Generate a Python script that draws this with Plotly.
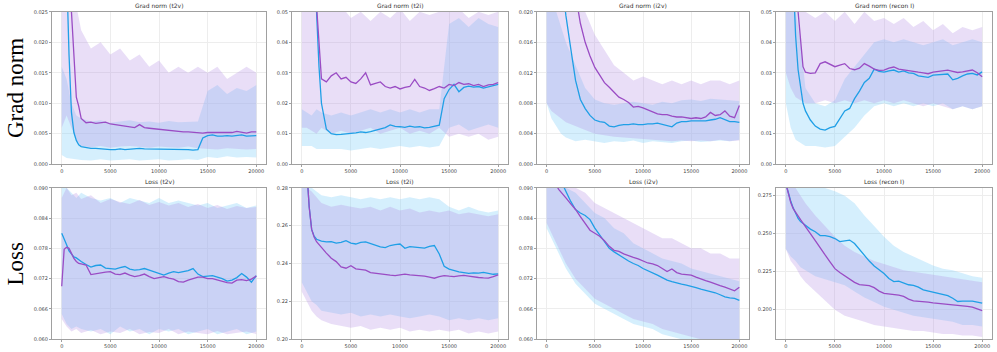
import plotly.graph_objects as go

# x positions (training steps) of the smoothed curves and of the noise envelopes
STEPS = [0, 250, 500, 750, 1000, 1250, 1500, 1750, 2000] + list(range(2500, 20001, 500))
BAND_STEPS = [0, 500, 1000, 1500, 2000] + list(range(3000, 20001, 1000))
X_TICKS = [0, 5000, 10000, 15000, 20000]

# ---- Grad norm (t2v)
gn_t2v_blue = [0.060, 0.045, 0.032, 0.018, 0.0085, 0.0052, 0.0039, 0.0032, 0.0029,
               0.0027, 0.0026, 0.0026, 0.0025, 0.0025, 0.0024, 0.0024, 0.0025, 0.0024,
               0.0025, 0.0025, 0.0026, 0.0025, 0.0025, 0.0024, 0.0025, 0.0024, 0.0025,
               0.0025, 0.0024, 0.0025, 0.0024, 0.0023, 0.0024, 0.0043, 0.0047, 0.0048,
               0.0046, 0.0046, 0.0047, 0.0046, 0.0047, 0.0048, 0.0046, 0.0047, 0.0047]
gn_t2v_purple = [0.080, 0.065, 0.050, 0.035, 0.025, 0.017, 0.011, 0.0095, 0.0075,
                 0.0068, 0.0069, 0.0067, 0.0068, 0.0069, 0.0066, 0.0065, 0.0064, 0.0063,
                 0.0061, 0.0060, 0.0065, 0.0060, 0.0059, 0.0058, 0.0058, 0.0057, 0.0056,
                 0.0055, 0.0054, 0.0053, 0.0053, 0.0052, 0.0051, 0.0051, 0.0052, 0.0052,
                 0.0052, 0.0051, 0.0051, 0.0052, 0.0054, 0.0052, 0.0051, 0.0053, 0.0053]
gn_t2v_blue_lo = [0.0015, 0.0010, 0.0008, 0.0008, 0.0007, 0.0006, 0.0008, 0.0006, 0.0007, 0.0008, 0.0006, 0.0007,
                  0.0008, 0.0006, 0.0007, 0.0008, 0.0007, 0.0012, 0.0010, 0.0013, 0.0011, 0.0012, 0.0011]
gn_t2v_blue_hi = [0.016, 0.014, 0.010, 0.0080, 0.0075, 0.0070, 0.0072, 0.0068, 0.0070, 0.0072, 0.0069, 0.0070,
                  0.0068, 0.0071, 0.0069, 0.0070, 0.0070, 0.012, 0.013, 0.0115, 0.0125, 0.012, 0.013]
gn_t2v_purple_lo = [0.006, 0.008, 0.006, 0.004, 0.0030, 0.0028, 0.0030, 0.0027, 0.0029, 0.0030, 0.0028, 0.0027,
                    0.0029, 0.0028, 0.0027, 0.0029, 0.0026, 0.0025, 0.0024, 0.0026, 0.0025, 0.0024, 0.0025]
gn_t2v_purple_hi = [0.030, 0.030, 0.030, 0.026, 0.022, 0.019, 0.020, 0.018, 0.019, 0.017, 0.018, 0.016,
                    0.017, 0.015, 0.016, 0.015, 0.016, 0.015, 0.016, 0.014, 0.015, 0.016, 0.015]
gn_t2v_ticks = ["0.000", "0.005", "0.010", "0.015", "0.020", "0.025"]

# ---- Grad norm (t2i)
gn_t2i_blue = [0.100, 0.090, 0.080, 0.070, 0.062, 0.055, 0.050, 0.032, 0.020,
               0.0115, 0.0100, 0.0097, 0.0098, 0.0099, 0.0100, 0.0103, 0.0106, 0.0104,
               0.0107, 0.0111, 0.0116, 0.0120, 0.0129, 0.0124, 0.0123, 0.0121, 0.0125,
               0.0122, 0.0123, 0.0119, 0.0121, 0.0124, 0.0128, 0.0215, 0.0245, 0.0262,
               0.0238, 0.0252, 0.0256, 0.0253, 0.0255, 0.0250, 0.0254, 0.0257, 0.0262]
gn_t2i_purple = [0.120, 0.110, 0.100, 0.090, 0.080, 0.070, 0.052, 0.040, 0.028,
                 0.027, 0.029, 0.030, 0.028, 0.0285, 0.027, 0.0265, 0.028, 0.030,
                 0.026, 0.0265, 0.027, 0.0255, 0.025, 0.0255, 0.0247, 0.0252, 0.0255,
                 0.0278, 0.0255, 0.0250, 0.0242, 0.0248, 0.0255, 0.0250, 0.0262, 0.0258,
                 0.0268, 0.0262, 0.0264, 0.0258, 0.0262, 0.0255, 0.0260, 0.0262, 0.0268]
gn_t2i_blue_lo = [0.006, 0.006, 0.006, 0.005, 0.005, 0.005, 0.005, 0.0045, 0.005, 0.0055, 0.005, 0.0055,
                  0.006, 0.0055, 0.006, 0.0055, 0.006, 0.012, 0.013, 0.011, 0.012, 0.013, 0.012]
gn_t2i_blue_hi = [0.018, 0.017, 0.016, 0.018, 0.017, 0.016, 0.017, 0.016, 0.017, 0.018, 0.017, 0.018,
                  0.017, 0.018, 0.017, 0.018, 0.018, 0.046, 0.048, 0.045, 0.048, 0.046, 0.045]
gn_t2i_purple_lo = [0.012, 0.012, 0.011, 0.010, 0.012, 0.010, 0.011, 0.010, 0.011, 0.012, 0.010, 0.011,
                    0.012, 0.010, 0.011, 0.010, 0.012, 0.009, 0.010, 0.009, 0.010, 0.008, 0.009]
gn_t2i_purple_hi = [0.060, 0.060, 0.060, 0.060, 0.055, 0.050, 0.052, 0.048, 0.050, 0.047, 0.050, 0.048,
                    0.051, 0.047, 0.050, 0.049, 0.050, 0.050, 0.051, 0.048, 0.050, 0.049, 0.050]
gn_t2i_ticks = ["0.00", "0.01", "0.02", "0.03", "0.04", "0.05"]

# ---- Grad norm (i2v)
gn_i2v_blue = [0.040, 0.038, 0.036, 0.034, 0.031, 0.028, 0.025, 0.022, 0.0195,
               0.0152, 0.0110, 0.0085, 0.0073, 0.0064, 0.0058, 0.0056, 0.0055, 0.0050,
               0.0049, 0.0051, 0.0052, 0.0052, 0.0053, 0.0052, 0.0052, 0.0053, 0.0053,
               0.0054, 0.0052, 0.0050, 0.0049, 0.0054, 0.0056, 0.0056, 0.0057, 0.0057,
               0.0057, 0.0057, 0.0058, 0.0059, 0.0061, 0.0058, 0.0056, 0.0056, 0.0055]
gn_i2v_purple = [0.050, 0.048, 0.046, 0.044, 0.042, 0.040, 0.037, 0.034, 0.031,
                 0.026, 0.022, 0.0185, 0.016, 0.0142, 0.0127, 0.0116, 0.0107, 0.0101,
                 0.0094, 0.0088, 0.0085, 0.0081, 0.0075, 0.0076, 0.0074, 0.0071, 0.0068,
                 0.0066, 0.0065, 0.0065, 0.0063, 0.0062, 0.0062, 0.0061, 0.0060, 0.0061,
                 0.0060, 0.0062, 0.0068, 0.0064, 0.0065, 0.0070, 0.0063, 0.0061, 0.0077]
gn_i2v_blue_lo = [0.008, 0.006, 0.005, 0.004, 0.0035, 0.0030, 0.0032, 0.0030, 0.0028, 0.0030, 0.0029, 0.0031,
                  0.0028, 0.0030, 0.0029, 0.0028, 0.0030, 0.0031, 0.0029, 0.0030, 0.0031, 0.0030, 0.0032]
gn_i2v_blue_hi = [0.020, 0.020, 0.020, 0.018, 0.016, 0.013, 0.010, 0.0085, 0.0080, 0.0078, 0.0080, 0.0082,
                  0.0080, 0.0078, 0.0082, 0.0080, 0.0084, 0.0085, 0.0083, 0.0086, 0.0085, 0.0084, 0.0083]
gn_i2v_purple_lo = [0.008, 0.007, 0.0065, 0.006, 0.0055, 0.005, 0.0045, 0.004, 0.0038, 0.0036, 0.0035, 0.0034,
                    0.0033, 0.0032, 0.0031, 0.0030, 0.0031, 0.0030, 0.0031, 0.0030, 0.0032, 0.0030, 0.0031]
gn_i2v_purple_hi = [0.024, 0.024, 0.024, 0.024, 0.024, 0.022, 0.020, 0.017, 0.015, 0.013, 0.012, 0.011,
                    0.0115, 0.011, 0.0105, 0.011, 0.0105, 0.011, 0.0105, 0.011, 0.011, 0.0105, 0.011]
gn_i2v_ticks = ["0.000", "0.004", "0.008", "0.012", "0.016", "0.020"]

# ---- Grad norm (recon I)
gn_rec_blue = [0.120, 0.100, 0.080, 0.058, 0.042, 0.031, 0.025, 0.020, 0.0175,
               0.0145, 0.0125, 0.0115, 0.0112, 0.0120, 0.0124, 0.0150, 0.0175, 0.0183,
               0.0215, 0.0240, 0.0268, 0.0282, 0.0312, 0.0305, 0.0302, 0.0306, 0.0309,
               0.0302, 0.0306, 0.0300, 0.0298, 0.0290, 0.0287, 0.0285, 0.0292, 0.0294,
               0.0294, 0.0296, 0.0277, 0.0282, 0.0290, 0.0296, 0.0298, 0.0293, 0.0303]
gn_rec_purple = [0.140, 0.120, 0.100, 0.080, 0.065, 0.050, 0.041, 0.032, 0.0302,
                 0.0298, 0.0300, 0.0330, 0.0336, 0.0328, 0.0320, 0.0325, 0.0330, 0.0314,
                 0.0310, 0.0315, 0.0330, 0.0322, 0.0312, 0.0308, 0.0309, 0.0315, 0.0319,
                 0.0312, 0.0309, 0.0306, 0.0303, 0.0302, 0.0300, 0.0297, 0.0302, 0.0304,
                 0.0306, 0.0309, 0.0305, 0.0301, 0.0303, 0.0306, 0.0309, 0.0300, 0.0287]
gn_rec_blue_lo = [0.020, 0.012, 0.008, 0.007, 0.006, 0.006, 0.0055, 0.006, 0.009, 0.012, 0.016, 0.019,
                  0.020, 0.019, 0.020, 0.019, 0.020, 0.019, 0.020, 0.018, 0.019, 0.018, 0.019]
gn_rec_blue_hi = [0.050, 0.050, 0.050, 0.040, 0.025, 0.020, 0.019, 0.021, 0.028, 0.032, 0.036, 0.040,
                  0.041, 0.040, 0.041, 0.040, 0.039, 0.040, 0.041, 0.039, 0.040, 0.041, 0.040]
gn_rec_purple_lo = [0.030, 0.025, 0.022, 0.021, 0.020, 0.020, 0.021, 0.020, 0.021, 0.020, 0.021, 0.020,
                    0.021, 0.020, 0.021, 0.020, 0.019, 0.020, 0.019, 0.018, 0.019, 0.018, 0.019]
gn_rec_purple_hi = [0.060, 0.060, 0.060, 0.055, 0.050, 0.048, 0.050, 0.047, 0.050, 0.046, 0.050, 0.047,
                    0.048, 0.046, 0.048, 0.045, 0.047, 0.044, 0.046, 0.043, 0.045, 0.044, 0.045]
gn_rec_ticks = ["0.00", "0.01", "0.02", "0.03", "0.04", "0.05"]

# ---- Loss (t2v)
ls_t2v_blue = [0.0810, 0.0800, 0.0787, 0.0775, 0.0768, 0.0763, 0.0761, 0.0757, 0.0754,
               0.0748, 0.0743, 0.0746, 0.0747, 0.0741, 0.0740, 0.0739, 0.0742, 0.0744,
               0.0739, 0.0737, 0.0738, 0.0740, 0.0737, 0.0734, 0.0731, 0.0727, 0.0731,
               0.0734, 0.0732, 0.0734, 0.0736, 0.0740, 0.0729, 0.0724, 0.0725, 0.0726,
               0.0723, 0.0720, 0.0715, 0.0717, 0.0722, 0.0730, 0.0723, 0.0713, 0.0726]
ls_t2v_purple = [0.0705, 0.0778, 0.0782, 0.0780, 0.0770, 0.0760, 0.0754, 0.0750, 0.0749,
                 0.0747, 0.0728, 0.0730, 0.0731, 0.0733, 0.0734, 0.0729, 0.0728, 0.0731,
                 0.0727, 0.0724, 0.0726, 0.0729, 0.0724, 0.0720, 0.0722, 0.0724, 0.0721,
                 0.0719, 0.0714, 0.0713, 0.0717, 0.0720, 0.0723, 0.0723, 0.0720, 0.0720,
                 0.0717, 0.0714, 0.0712, 0.0711, 0.0717, 0.0718, 0.0716, 0.0719, 0.0725]
ls_t2v_blue_lo = [0.0650, 0.0630, 0.0620, 0.0625, 0.0620, 0.0615, 0.0620, 0.0610, 0.0625, 0.0615, 0.0620, 0.0610,
                  0.0620, 0.0615, 0.0620, 0.0610, 0.0615, 0.0620, 0.0610, 0.0615, 0.0620, 0.0610, 0.0615]
ls_t2v_blue_hi = [0.0900, 0.0900, 0.0890, 0.0880, 0.0890, 0.0880, 0.0875, 0.0880, 0.0870, 0.0880, 0.0875, 0.0870,
                  0.0880, 0.0870, 0.0875, 0.0870, 0.0865, 0.0870, 0.0860, 0.0865, 0.0870, 0.0860, 0.0865]
ls_t2v_purple_lo = [0.0640, 0.0625, 0.0615, 0.0620, 0.0612, 0.0618, 0.0610, 0.0615, 0.0612, 0.0620, 0.0610, 0.0614,
                    0.0612, 0.0620, 0.0610, 0.0615, 0.0612, 0.0610, 0.0616, 0.0610, 0.0612, 0.0615, 0.0610]
ls_t2v_purple_hi = [0.0880, 0.0900, 0.0885, 0.0890, 0.0878, 0.0885, 0.0870, 0.0878, 0.0872, 0.0868, 0.0876, 0.0866,
                    0.0872, 0.0865, 0.0870, 0.0862, 0.0868, 0.0860, 0.0866, 0.0858, 0.0864, 0.0860, 0.0862]
ls_t2v_ticks = ["0.060", "0.066", "0.072", "0.078", "0.084", "0.090"]

# ---- Loss (t2i)
ls_t2i_blue = [0.330, 0.310, 0.290, 0.270, 0.258, 0.2545, 0.2528, 0.2522, 0.2518,
               0.2514, 0.2516, 0.2508, 0.2511, 0.2521, 0.2508, 0.2503, 0.2512, 0.2514,
               0.2505, 0.2498, 0.2488, 0.2484, 0.2495, 0.2500, 0.2503, 0.2480, 0.2489,
               0.2486, 0.2482, 0.2481, 0.2490, 0.2495, 0.2450, 0.2385, 0.2370, 0.2362,
               0.2356, 0.2352, 0.2348, 0.2350, 0.2349, 0.2353, 0.2348, 0.2343, 0.2345]
ls_t2i_purple = [0.330, 0.310, 0.290, 0.270, 0.258, 0.2540, 0.2515, 0.2498, 0.2485,
                 0.2455, 0.2428, 0.2410, 0.2382, 0.2375, 0.2388, 0.2372, 0.2370, 0.2365,
                 0.2352, 0.2348, 0.2345, 0.2342, 0.2338, 0.2336, 0.2342, 0.2344, 0.2340,
                 0.2338, 0.2337, 0.2333, 0.2328, 0.2322, 0.2330, 0.2336, 0.2333, 0.2331,
                 0.2334, 0.2337, 0.2333, 0.2328, 0.2326, 0.2324, 0.2323, 0.2330, 0.2340]
ls_t2i_blue_lo = [0.230, 0.225, 0.220, 0.218, 0.215, 0.214, 0.213, 0.214, 0.212, 0.213, 0.212, 0.213,
                  0.212, 0.211, 0.212, 0.213, 0.212, 0.210, 0.211, 0.210, 0.211, 0.210, 0.211]
ls_t2i_blue_hi = [0.285, 0.285, 0.280, 0.278, 0.276, 0.275, 0.276, 0.275, 0.274, 0.275, 0.274, 0.275,
                  0.274, 0.275, 0.274, 0.275, 0.274, 0.270, 0.268, 0.270, 0.268, 0.267, 0.268]
ls_t2i_purple_lo = [0.225, 0.220, 0.215, 0.212, 0.210, 0.208, 0.207, 0.206, 0.207, 0.205, 0.206, 0.205,
                    0.206, 0.204, 0.205, 0.204, 0.205, 0.204, 0.205, 0.203, 0.204, 0.203, 0.204]
ls_t2i_purple_hi = [0.285, 0.280, 0.278, 0.275, 0.272, 0.270, 0.271, 0.270, 0.269, 0.270, 0.268, 0.270,
                    0.268, 0.269, 0.267, 0.268, 0.267, 0.268, 0.266, 0.267, 0.266, 0.265, 0.266]
ls_t2i_ticks = ["0.20", "0.22", "0.24", "0.26", "0.28"]

# ---- Loss (i2v)
ls_i2v_blue = [0.098, 0.097, 0.096, 0.095, 0.094, 0.093, 0.0915, 0.0903, 0.0893,
               0.0873, 0.0857, 0.0850, 0.0845, 0.0837, 0.0820, 0.0807, 0.0795, 0.0780,
               0.0773, 0.0767, 0.0760, 0.0755, 0.0750, 0.0746, 0.0740, 0.0736, 0.0731,
               0.0727, 0.0722, 0.0717, 0.0714, 0.0711, 0.0709, 0.0707, 0.0705, 0.0702,
               0.0699, 0.0697, 0.0695, 0.0692, 0.0688, 0.0684, 0.0682, 0.0681, 0.0677]
ls_i2v_purple = [0.096, 0.0945, 0.093, 0.0918, 0.0905, 0.0897, 0.0892, 0.0886, 0.0880,
                 0.0868, 0.0857, 0.0843, 0.0830, 0.0816, 0.0810, 0.0804, 0.0795, 0.0784,
                 0.0776, 0.0774, 0.0769, 0.0765, 0.0762, 0.0759, 0.0755, 0.0751, 0.0749,
                 0.0746, 0.0740, 0.0734, 0.0739, 0.0732, 0.0729, 0.0728, 0.0727, 0.0723,
                 0.0719, 0.0716, 0.0713, 0.0709, 0.0706, 0.0703, 0.0700, 0.0696, 0.0703]
ls_i2v_blue_lo = [0.082, 0.080, 0.078, 0.076, 0.074, 0.071, 0.069, 0.067, 0.066, 0.065, 0.064, 0.063,
                  0.0625, 0.062, 0.061, 0.0605, 0.060, 0.059, 0.0595, 0.059, 0.0585, 0.059, 0.058]
ls_i2v_blue_hi = [0.090, 0.092, 0.092, 0.091, 0.090, 0.089, 0.087, 0.085, 0.084, 0.082, 0.081, 0.079,
                  0.078, 0.077, 0.076, 0.0755, 0.075, 0.074, 0.0735, 0.073, 0.0725, 0.072, 0.0715]
ls_i2v_purple_lo = [0.083, 0.081, 0.079, 0.077, 0.075, 0.072, 0.070, 0.068, 0.067, 0.066, 0.065, 0.064,
                    0.0635, 0.063, 0.062, 0.0615, 0.061, 0.0605, 0.060, 0.0598, 0.0595, 0.059, 0.059]
ls_i2v_purple_hi = [0.092, 0.093, 0.093, 0.092, 0.091, 0.090, 0.089, 0.087, 0.086, 0.085, 0.084, 0.083,
                    0.082, 0.081, 0.080, 0.080, 0.079, 0.078, 0.078, 0.077, 0.077, 0.076, 0.076]
ls_i2v_ticks = ["0.060", "0.066", "0.072", "0.078", "0.084", "0.090"]

# ---- Loss (recon I)
ls_rec_blue = [0.283, 0.2765, 0.2715, 0.2670, 0.2630, 0.2600, 0.2580, 0.2565, 0.2555,
               0.2530, 0.2513, 0.2488, 0.2487, 0.2480, 0.2468, 0.2448, 0.2454, 0.2458,
               0.2435, 0.2395, 0.2358, 0.2320, 0.2287, 0.2262, 0.2238, 0.2205, 0.2185,
               0.2188, 0.2176, 0.2164, 0.2160, 0.2148, 0.2130, 0.2122, 0.2114, 0.2110,
               0.2103, 0.2092, 0.2075, 0.2054, 0.2057, 0.2058, 0.2057, 0.2050, 0.2043]
ls_rec_purple = [0.283, 0.2760, 0.2705, 0.2665, 0.2640, 0.2610, 0.2592, 0.2570, 0.2545,
                 0.2500, 0.2455, 0.2405, 0.2360, 0.2315, 0.2270, 0.2245, 0.2222, 0.2200,
                 0.2180, 0.2165, 0.2163, 0.2158, 0.2145, 0.2122, 0.2107, 0.2104, 0.2101,
                 0.2096, 0.2088, 0.2070, 0.2058, 0.2056, 0.2054, 0.2050, 0.2045, 0.2042,
                 0.2038, 0.2033, 0.2031, 0.2029, 0.2028, 0.2022, 0.2017, 0.2008, 0.1994]
ls_rec_blue_lo = [0.240, 0.235, 0.232, 0.228, 0.226, 0.222, 0.220, 0.218, 0.216, 0.212, 0.208, 0.205,
                  0.202, 0.200, 0.198, 0.196, 0.195, 0.194, 0.193, 0.192, 0.190, 0.190, 0.189]
ls_rec_blue_hi = [0.290, 0.290, 0.285, 0.280, 0.280, 0.280, 0.280, 0.278, 0.275, 0.270, 0.262, 0.255,
                  0.248, 0.242, 0.238, 0.235, 0.232, 0.229, 0.227, 0.226, 0.224, 0.222, 0.221]
ls_rec_purple_lo = [0.240, 0.232, 0.228, 0.222, 0.218, 0.212, 0.206, 0.200, 0.196, 0.194, 0.192, 0.190,
                    0.189, 0.188, 0.187, 0.186, 0.186, 0.185, 0.184, 0.184, 0.183, 0.183, 0.182]
ls_rec_purple_hi = [0.290, 0.285, 0.280, 0.275, 0.270, 0.262, 0.255, 0.248, 0.242, 0.238, 0.235, 0.232,
                    0.230, 0.228, 0.226, 0.225, 0.224, 0.223, 0.222, 0.221, 0.220, 0.219, 0.218]
ls_rec_ticks = ["0.200", "0.225", "0.250", "0.275"]

BLUE = "#1f9fe6"
PURPLE = "#9a4cc4"
BLUE_FILL = "rgba(125,205,250,0.32)"
PURPLE_FILL = "rgba(175,135,228,0.28)"

# (title, blue, purple, blue_lo, blue_hi, purple_lo, purple_hi, ticks, y range, row, col)
panels = [
    ("Grad norm (t2v)", gn_t2v_blue, gn_t2v_purple, gn_t2v_blue_lo, gn_t2v_blue_hi,
     gn_t2v_purple_lo, gn_t2v_purple_hi, gn_t2v_ticks, [0, 0.025], 0, 0),
    ("Grad norm (t2i)", gn_t2i_blue, gn_t2i_purple, gn_t2i_blue_lo, gn_t2i_blue_hi,
     gn_t2i_purple_lo, gn_t2i_purple_hi, gn_t2i_ticks, [0, 0.05], 0, 1),
    ("Grad norm (i2v)", gn_i2v_blue, gn_i2v_purple, gn_i2v_blue_lo, gn_i2v_blue_hi,
     gn_i2v_purple_lo, gn_i2v_purple_hi, gn_i2v_ticks, [0, 0.020], 0, 2),
    ("Grad norm (recon I)", gn_rec_blue, gn_rec_purple, gn_rec_blue_lo, gn_rec_blue_hi,
     gn_rec_purple_lo, gn_rec_purple_hi, gn_rec_ticks, [0, 0.05], 0, 3),
    ("Loss (t2v)", ls_t2v_blue, ls_t2v_purple, ls_t2v_blue_lo, ls_t2v_blue_hi,
     ls_t2v_purple_lo, ls_t2v_purple_hi, ls_t2v_ticks, [0.060, 0.090], 1, 0),
    ("Loss (t2i)", ls_t2i_blue, ls_t2i_purple, ls_t2i_blue_lo, ls_t2i_blue_hi,
     ls_t2i_purple_lo, ls_t2i_purple_hi, ls_t2i_ticks, [0.20, 0.28], 1, 1),
    ("Loss (i2v)", ls_i2v_blue, ls_i2v_purple, ls_i2v_blue_lo, ls_i2v_blue_hi,
     ls_i2v_purple_lo, ls_i2v_purple_hi, ls_i2v_ticks, [0.060, 0.090], 1, 2),
    ("Loss (recon I)", ls_rec_blue, ls_rec_purple, ls_rec_blue_lo, ls_rec_blue_hi,
     ls_rec_purple_lo, ls_rec_purple_hi, ls_rec_ticks, [0.1806, 0.2802], 1, 3),
]

W, H = 997, 352
col_px = [(52, 266), (292, 508), (537, 749), (776, 992)]
row_px = [(9, 164), (188, 342)]

fig = go.Figure()


def band(xs, lo, hi, color, xa, ya):
    return go.Scatter(x=xs + xs[::-1], y=hi + lo[::-1], fill="toself", fillcolor=color,
                      line=dict(width=0), mode="lines", hoverinfo="skip",
                      showlegend=False, xaxis=xa, yaxis=ya)


for i, (title, blue, purple, blo, bhi, plo, phi, ticks, yr, r, c) in enumerate(panels):
    n = "" if i == 0 else str(i + 1)
    xa, ya = "x" + n, "y" + n
    fig.add_trace(band(BAND_STEPS, blo, bhi, BLUE_FILL, xa, ya))
    fig.add_trace(band(BAND_STEPS, plo, phi, PURPLE_FILL, xa, ya))
    fig.add_trace(go.Scatter(x=STEPS, y=blue, mode="lines", line=dict(color=BLUE, width=1.3),
                             showlegend=False, xaxis=xa, yaxis=ya))
    fig.add_trace(go.Scatter(x=STEPS, y=purple, mode="lines", line=dict(color=PURPLE, width=1.3),
                             showlegend=False, xaxis=xa, yaxis=ya))

    x0, x1 = col_px[c]
    y0, y1 = row_px[r]
    axis_common = dict(showline=True, mirror=True, linecolor="#a0a0a0", linewidth=1,
                       showgrid=True, gridcolor="#ededed", gridwidth=1, zeroline=False,
                       ticks="outside", ticklen=2, tickcolor="#a0a0a0",
                       tickfont=dict(family="DejaVu Sans", size=5, color="#444"))
    fig.layout["xaxis" + n] = dict(axis_common, domain=[x0 / W, x1 / W], range=[-1000, 21000],
                                   tickvals=X_TICKS, ticktext=[str(t) for t in X_TICKS],
                                   anchor=ya)
    fig.layout["yaxis" + n] = dict(axis_common, domain=[1 - y1 / H, 1 - y0 / H], range=yr,
                                   tickvals=[float(t) for t in ticks], ticktext=ticks,
                                   anchor=xa)
    fig.add_annotation(text=title, x=(x0 + x1) / 2 / W, y=1 - (y0 - 1) / H, xref="paper",
                       yref="paper", xanchor="center", yanchor="bottom", showarrow=False,
                       font=dict(family="DejaVu Sans", size=6, color="#333"))

for label, (y0, y1) in zip(["Grad norm", "Loss"], row_px):
    fig.add_annotation(text=label, x=15 / W, y=1 - (y0 + y1) / 2 / H, xref="paper", yref="paper",
                       xanchor="center", yanchor="middle", textangle=-90, showarrow=False,
                       font=dict(family="Liberation Serif", size=23, color="black"))

fig.update_layout(width=W, height=H, margin=dict(l=0, r=0, t=0, b=0),
                  paper_bgcolor="white", plot_bgcolor="white", showlegend=False)

# drop the default 8px page margin so the figure fills the window exactly
fig.write_html("out.html", config={"displayModeBar": False},
               post_script="document.body.style.margin='0';document.body.style.overflow='hidden';")
